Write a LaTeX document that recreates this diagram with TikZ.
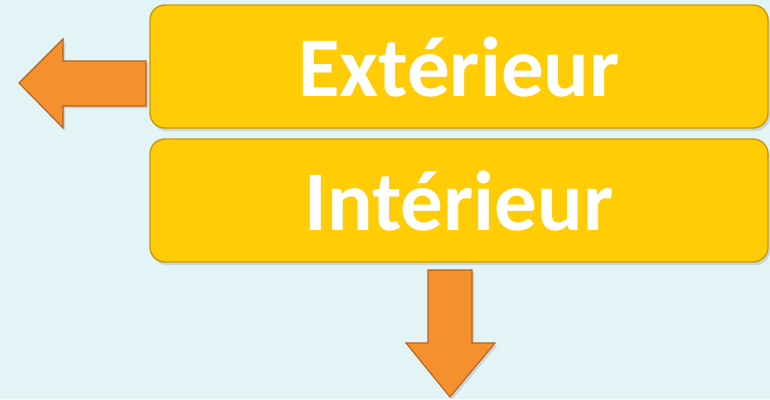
\documentclass[tikz,border=0pt]{standalone}
\usepackage{fontspec}
\setmainfont{Carlito}
\usepackage{xcolor}
\usepackage{tikz}
\usetikzlibrary{calc}
\usetikzlibrary{shadows}
\definecolor{fond}{HTML}{E3F4F6}
\definecolor{jaune}{HTML}{FFCC05}
\definecolor{jaunebord}{HTML}{C99A00}
\definecolor{orange}{HTML}{F5902F}
\definecolor{orangebord}{HTML}{B5621C}

\begin{document}
\begin{tikzpicture}[
	boite/.style={draw=jaunebord,line width=1pt,fill=jaune,rounded corners=3.75mm,minimum width=15.45cm,minimum height=3.075cm,text=white,font=\fontsize{60.5}{62}\selectfont\bfseries,drop shadow={shadow xshift=0.5mm,shadow yshift=-0.8mm,opacity=0.25}},
	fleche/.style={draw=orangebord,line width=0.8pt,fill=orange,line join=miter,drop shadow={shadow xshift=0.6mm,shadow yshift=-0.6mm,opacity=0.25}}]
	\fill[fond] (0,0) rectangle (19.25,-9.975);
	\useasboundingbox (0,0) rectangle (19.25,-9.975);
	\node[boite] (ext) at (11.475,-1.6625) {Extérieur};
	\node[boite] (int) at (11.475,-5.0125) {Intérieur};
	% fleche vers la gauche
	\draw[fleche] (3.65,-1.525)--(1.575,-1.525)--(1.575,-0.975)--(0.475,-2.075)--(1.575,-3.2)--(1.575,-2.65)--(3.65,-2.65)--cycle;
	% fleche vers le bas
	\draw[fleche] (10.7,-6.75)--(11.8,-6.75)--(11.8,-8.575)--(12.375,-8.575)--(11.25,-9.925)--(10.15,-8.575)--(10.7,-8.575)--cycle;
\end{tikzpicture}
\end{document}
